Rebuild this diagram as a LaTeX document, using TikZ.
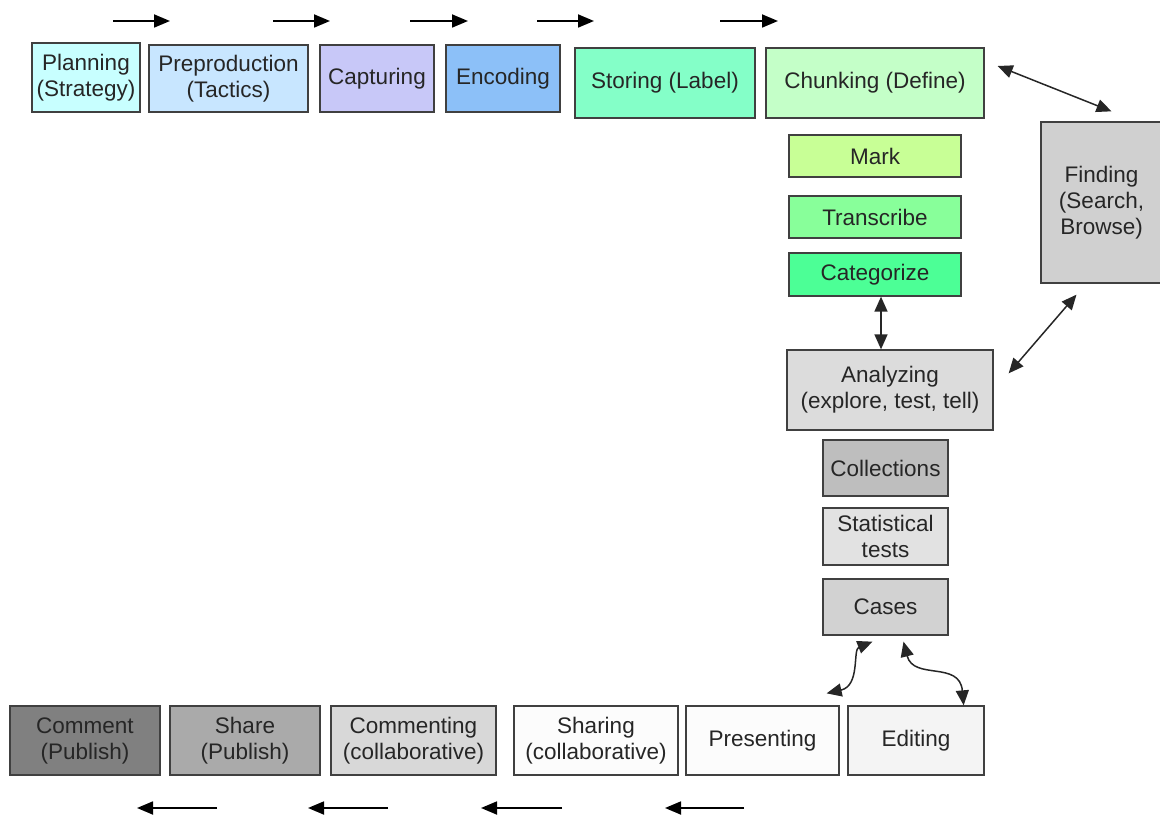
\documentclass[tikz,border=0pt]{standalone}
\usepackage{fontspec}
\setmainfont{Liberation Sans}
\usetikzlibrary{calc}
\usetikzlibrary{arrows.meta}

\begin{document}
\begin{tikzpicture}[x=1pt, y=-1pt]
        % Picture size and row heights
        \pgfmathsetmacro{\topy}{21}
        \pgfmathsetmacro{\boty}{808}

        \tikzset{
            box/.style={draw=black!75, line width=1.3pt, align=center,
            inner sep=2pt, text=black!85,
            font=\fontsize{22.5}{26}\selectfont},
            flow/.style={-{Triangle[length=16pt, width=13pt]},
            line width=1.8pt},
            both/.style={{Triangle[length=15pt, width=13pt]}-{Triangle[length=15pt, width=13pt]},
            line width=1.5pt, black!85},
        }

        \useasboundingbox (0, 0) rectangle (1160, 816);

        % Top row
        \node[box, fill={rgb,255:red,200;green,255;blue,255},
        minimum width=108, minimum height=69] (plan) at (86, 77.5)
        {Planning\\(Strategy)};
        \node[box, fill={rgb,255:red,200;green,230;blue,255},
        minimum width=159, minimum height=67] (prep) at (228.5, 78.5)
        {Preproduction\\(Tactics)};
        \node[box, fill={rgb,255:red,200;green,200;blue,248},
        minimum width=114, minimum height=67] (capt) at (377, 78.5)
        {Capturing};
        \node[box, fill={rgb,255:red,140;green,192;blue,248},
        minimum width=114, minimum height=67] (enco) at (503, 78.5)
        {Encoding};
        \node[box, fill={rgb,255:red,132;green,255;blue,200},
        minimum width=180, minimum height=70] (stor) at (665, 83)
        {Storing (Label)};
        \node[box, fill={rgb,255:red,196;green,255;blue,200},
        minimum width=218, minimum height=70] (chunk) at (875, 83)
        {Chunking (Define)};

        % Right column
        \node[box, fill={rgb,255:red,200;green,255;blue,150},
        minimum width=172, minimum height=42] (mark) at (875, 156)
        {Mark};
        \node[box, fill={rgb,255:red,136;green,255;blue,154},
        minimum width=172, minimum height=42] (trans) at (875, 217)
        {Transcribe};
        \node[box, fill={rgb,255:red,76;green,255;blue,150},
        minimum width=172, minimum height=43] (cat) at (875, 274.5)
        {Categorize};
        \node[box, fill={rgb,255:red,208;green,208;blue,208},
        minimum width=121, minimum height=161] (find) at (1101.5, 202.5)
        {Finding\\(Search,\\Browse)};
        \node[box, fill={rgb,255:red,220;green,220;blue,220},
        minimum width=206, minimum height=80] (ana) at (890, 390)
        {Analyzing\\(explore, test, tell)};
        \node[box, fill={rgb,255:red,190;green,190;blue,190},
        minimum width=125, minimum height=56] (coll) at (885.5, 468)
        {Collections};
        \node[box, fill={rgb,255:red,226;green,226;blue,226},
        minimum width=125, minimum height=57] (stat) at (885.5, 536.5)
        {Statistical\\tests};
        \node[box, fill={rgb,255:red,210;green,210;blue,210},
        minimum width=125, minimum height=56] (cases) at (885.5, 607)
        {Cases};

        % Bottom row
        \node[box, fill={rgb,255:red,128;green,128;blue,128},
        minimum width=150, minimum height=69] (comm) at (85, 740.5)
        {Comment\\(Publish)};
        \node[box, fill={rgb,255:red,170;green,170;blue,170},
        minimum width=150, minimum height=69] (share) at (245, 740.5)
        {Share\\(Publish)};
        \node[box, fill={rgb,255:red,216;green,216;blue,216},
        minimum width=165, minimum height=69] (colcomm) at (413.5, 740.5)
        {Commenting\\(collaborative)};
        \node[box, fill={rgb,255:red,252;green,252;blue,252},
        minimum width=164, minimum height=69] (colshare) at (596, 740.5)
        {Sharing\\(collaborative)};
        \node[box, fill={rgb,255:red,252;green,252;blue,252},
        minimum width=153, minimum height=69] (pres) at (762.5, 740.5)
        {Presenting};
        \node[box, fill={rgb,255:red,244;green,244;blue,244},
        minimum width=136, minimum height=69] (edit) at (916, 740.5)
        {Editing};

        % Flow arrows above and below the rows
        \foreach \a/\b [count=\i] in {113/170, 273/330, 410/468,
        537/594, 720/778} {
            \coordinate (top\i s) at (\a, \topy);
            \coordinate (top\i e) at (\b, \topy);
            \draw[flow] (top\i s) -- (top\i e);
        }
        \foreach \a/\b [count=\i] in {217/137, 388/308, 562/481,
        744/665} {
            \coordinate (bot\i s) at (\a, \boty);
            \coordinate (bot\i e) at (\b, \boty);
            \draw[flow] (bot\i s) -- (bot\i e);
        }

        % Links between the blocks
        \draw[both] ($(chunk.east) + (13, -17)$) -- ($(find.north) + (10, -10)$);
        \draw[both] ($(ana.north east) + (15, 24)$) -- ($(find.south) + (-25, 11)$);
        \draw[both] ($(cat.south) + (6, 0)$) -- ($(ana.north) + (-9, 0)$);
        \draw[both] ($(cases.south) + (-13, 6)$) .. controls
        ($(cases.south) + (-33, 14)$) and ($(cases.south) + (-25, 50)$)
        .. ($(pres.north east) + (-13, -12)$);
        \draw[both] ($(cases.south) + (18, 6)$) .. controls
        ($(cases.south) + (28, 45)$) and ($(edit.north east) + (-25, -45)$)
        .. ($(edit.north east) + (-21, 0)$);

        \end{tikzpicture}
\end{document}
